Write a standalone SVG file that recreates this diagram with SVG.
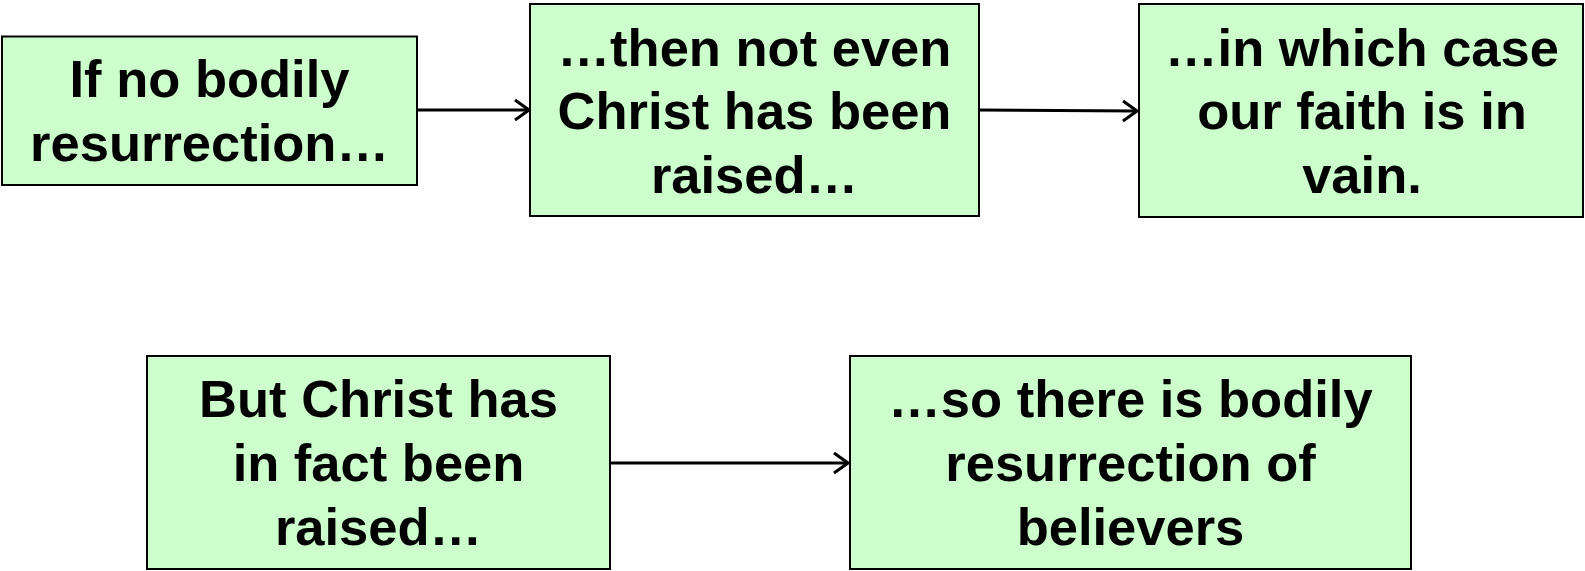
<svg xmlns="http://www.w3.org/2000/svg" width="1585" height="571" viewBox="0 0 1585 571">
<style>
.box{fill:#CCFFCC;stroke:#000;stroke-width:2}
.t{font-family:"Liberation Sans",Arial,sans-serif;font-weight:bold;font-size:52.5px;text-anchor:middle;fill:#000}
.c{stroke:#000;stroke-width:3;fill:none}
</style>
<defs>
<marker id="ah" markerWidth="18" markerHeight="26" refX="16" refY="12" orient="auto" markerUnits="userSpaceOnUse">
<path d="M2,2 L16,12 L2,22" fill="none" stroke="#000" stroke-width="3"/>
</marker>
</defs>
<rect width="1585" height="571" fill="#fff"/>
<g id="connectors">
<line class="c" x1="418" y1="110" x2="529" y2="110" marker-end="url(#ah)"/>
<line class="c" x1="980" y1="110" x2="1137" y2="111" marker-end="url(#ah)"/>
<line class="c" x1="611" y1="463" x2="848" y2="463" marker-end="url(#ah)"/>
</g>
<g id="n1">
<rect class="box" x="2" y="36.5" width="415" height="148.5"/>
<text class="t" x="209.5" y="97">If no bodily</text>
<text class="t" x="209.5" y="161">resurrection…</text>
</g>
<g id="n2">
<rect class="box" x="530" y="4" width="449" height="212"/>
<text class="t" x="754.5" y="66">…then not even</text>
<text class="t" x="754.5" y="129">Christ has been</text>
<text class="t" x="754.5" y="193">raised…</text>
</g>
<g id="n3">
<rect class="box" x="1139" y="4" width="444" height="213"/>
<text class="t" x="1362" y="66">…in which case</text>
<text class="t" x="1362" y="129">our faith is in</text>
<text class="t" x="1362" y="193">vain.</text>
</g>
<g id="n4">
<rect class="box" x="147" y="356" width="463" height="213"/>
<text class="t" x="378.5" y="417">But Christ has</text>
<text class="t" x="378.5" y="481">in fact been</text>
<text class="t" x="378.5" y="545">raised…</text>
</g>
<g id="n5">
<rect class="box" x="850" y="356" width="561" height="213"/>
<text class="t" x="1130.5" y="417">…so there is bodily</text>
<text class="t" x="1130.5" y="481">resurrection of</text>
<text class="t" x="1130.5" y="545">believers</text>
</g>
</svg>
